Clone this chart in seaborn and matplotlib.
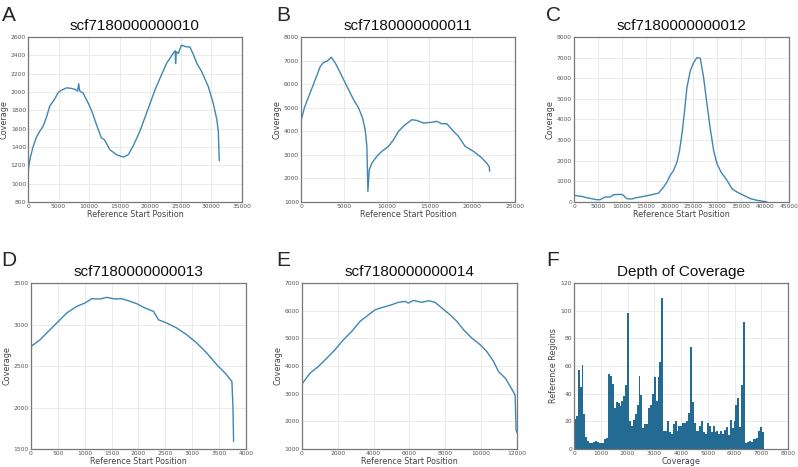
import numpy as np
import pandas as pd
import seaborn as sns
import matplotlib.pyplot as plt

# Coverage along each scaffold
a_pos = [0, 150, 400, 820, 1400, 2000, 2460, 3000, 3550, 4370, 4900, 5500, 6300, 7000, 7600, 8100, 8300,
         8450, 9000, 9840, 10500, 11200, 12000, 12500, 13400, 14500, 15600, 16400, 17200, 18300, 19400,
         20800, 21600, 22700, 23800, 24100, 24150, 24250, 24600, 25100, 25800, 26500, 27000, 27600, 28400,
         29500, 30300, 30900, 31150, 31300]
a_cov = [1100, 1200, 1290, 1400, 1510, 1580, 1625, 1720, 1845, 1924, 1990, 2020, 2045, 2040, 2030, 2010, 2090,
         2010, 1990, 1880, 1780, 1645, 1500, 1480, 1370, 1315, 1290, 1315, 1410, 1570, 1770,
         2025, 2150, 2315, 2425, 2450, 2310, 2440, 2420, 2510, 2495, 2490, 2420, 2315, 2225,
         2060, 1880, 1700, 1570, 1250]

b_pos = [0, 400, 900, 1670, 2260, 2650, 3035, 3540, 4000, 4400, 4980, 5560, 6150, 6730, 7200, 7500, 7700,
         7820, 7980, 8290, 8870, 9460, 10230, 10820, 11400, 12180, 12960, 13540, 14320, 15290, 15880,
         16460, 17040, 17820, 18400, 19180, 20160, 21130, 21710, 22000, 22050]
b_cov = [4450, 5000, 5480, 6190, 6755, 6925, 6970, 7140, 6900, 6615, 6190, 5765, 5340, 4990, 4560, 4070, 3360,
         1450, 2370, 2650, 2940, 3150, 3360, 3640, 4000, 4280, 4490, 4460, 4350, 4380, 4420,
         4320, 4320, 4000, 3790, 3360, 3150, 2870, 2650, 2500, 2300]

c_pos = [0, 1600, 2650, 3700, 4750, 5450, 6500, 7550, 8250, 9650, 10200, 11050, 12100, 13150, 14550, 15600,
         16650, 17700, 18740, 19440, 20140, 20840, 21540, 22100, 22600, 23150, 23640, 24340, 25040, 25730,
         26430, 27130, 27830, 28530, 29230, 29930, 30770, 32030, 33080, 34130, 35530, 36930, 38330, 39720,
         40400]
c_cov = [320, 270, 210, 160, 110, 110, 240, 240, 350, 370, 350, 160, 145, 210, 270, 320,
         370, 430, 720, 960, 1290, 1530, 1930, 2500, 3300, 4430, 5550, 6360, 6760, 7000,
         6970, 6030, 4750, 3540, 2500, 1850, 1450, 1050, 640, 480, 320, 160, 80, 30,
         0]

d_pos = [0, 10, 168, 354, 540, 665, 850, 1006, 1130, 1285, 1410, 1565, 1690, 1845, 1970, 2124, 2280,
         2373, 2528, 2714, 2900, 3087, 3273, 3460, 3615, 3739, 3758, 3770]
d_cov = [2550, 2740, 2816, 2937, 3057, 3138, 3218, 3259, 3311, 3307, 3327, 3307, 3311, 3279, 3250, 3198, 3158,
         3057, 3017, 2957, 2876, 2776, 2655, 2514, 2413, 2313, 2011, 1590]

e_pos = [0, 450, 910, 1380, 1840, 2310, 2780, 3240, 3710, 4080, 4550, 5010, 5380, 5760, 5940, 6220, 6690,
         7060, 7430, 7810, 8270, 8650, 9020, 9480, 9950, 10320, 10700, 10970, 11350, 11630, 11900, 11950,
         12000]
e_cov = [3350, 3740, 3980, 4280, 4585, 4945, 5250, 5610, 5850, 6030, 6130, 6215, 6300, 6335, 6275, 6370, 6300,
         6360, 6300, 6095, 5850, 5610, 5310, 5010, 4770, 4520, 4160, 3800, 3560, 3260, 2950, 1690,
         1600]

# Depth-of-coverage histogram: 100 bins from 0 to 7100
hist_counts = [22, 24, 57, 45, 61, 25, 9, 6, 4, 4,
               5, 6, 5, 4, 4, 4, 7, 8, 54, 53,
               47, 30, 34, 33, 31, 35, 38, 46, 98, 20,
               17, 21, 25, 32, 53, 39, 15, 18, 18, 30,
               32, 40, 52, 35, 52, 63, 109, 13, 13, 20,
               12, 11, 18, 20, 13, 17, 17, 19, 19, 20,
               26, 74, 34, 19, 13, 13, 17, 20, 12, 11,
               19, 17, 12, 17, 12, 13, 11, 13, 11, 14,
               16, 10, 21, 15, 20, 32, 37, 16, 46, 92,
               4, 5, 6, 5, 7, 7, 8, 13, 16, 12]
hist_max = 7100

titles = ['scf7180000000010', 'scf7180000000011', 'scf7180000000012',
          'scf7180000000013', 'scf7180000000014', 'Depth of Coverage']
letters = ['A', 'B', 'C', 'D', 'E', 'F']

sns.set_style('whitegrid')
plt.rcParams['font.family'] = ['DejaVu Sans']

line_color = '#3f86b5'
bar_color = '#236b93'

fig = plt.figure(figsize=(7.98, 4.67), dpi=100)

boxes = [[0.0351, 0.5675, 0.268, 0.3533], [0.3772, 0.5675, 0.268, 0.3533], [0.7193, 0.5675, 0.2694, 0.3533],
         [0.0388, 0.0385, 0.2694, 0.3555], [0.3784, 0.0385, 0.2694, 0.3555], [0.7193, 0.0385, 0.2682, 0.3555]]
axes = [fig.add_axes(b) for b in boxes]

curves = [(a_pos, a_cov), (b_pos, b_cov), (c_pos, c_cov), (d_pos, d_cov), (e_pos, e_cov)]
limits = [((0, 35000), (800, 2600), 5000, 200),
          ((0, 25000), (1000, 8000), 5000, 1000),
          ((0, 45000), (0, 8000), 5000, 1000),
          ((0, 4000), (1500, 3500), 500, 500),
          ((0, 12000), (1000, 7000), 2000, 1000)]

for ax, (x, y), (xl, yl, xs, ys) in zip(axes[:5], curves, limits):
    sns.lineplot(x=x, y=y, ax=ax, color=line_color, linewidth=1.0, sort=False)
    ax.set_xlim(xl)
    ax.set_ylim(yl)
    ax.set_xticks(np.arange(xl[0], xl[1] + 1, xs))
    ax.set_yticks(np.arange(yl[0], yl[1] + 1, ys))
    ax.set_xlabel('Reference Start Position')
    ax.set_ylabel('Coverage')

# histogram
ax = axes[5]
edges = np.linspace(0, hist_max, len(hist_counts) + 1)
hist_df = pd.DataFrame({'cov': (edges[:-1] + edges[1:]) / 2, 'n': hist_counts})
sns.histplot(data=hist_df, x='cov', weights='n', bins=list(edges), ax=ax, color=bar_color,
             alpha=1.0, edgecolor=bar_color, linewidth=0)
ax.set_xlim(0, 8000)
ax.set_ylim(0, 120)
ax.set_xticks(np.arange(0, 8001, 1000))
ax.set_yticks(np.arange(0, 121, 20))
ax.set_xlabel('Coverage')
ax.set_ylabel('Reference Regions')

for ax, t in zip(axes, titles):
    ax.set_title(t, fontsize=11, pad=5, family='Liberation Sans', color='#111111')
    ax.tick_params(labelsize=4.3, colors='#555555', length=0, pad=1.5)
    ax.xaxis.label.set_size(5.8)
    ax.yaxis.label.set_size(5.8)
    ax.xaxis.label.set_color('#444444')
    ax.yaxis.label.set_color('#444444')
    ax.xaxis.labelpad = 0.5
    ax.yaxis.labelpad = 1.5
    ax.grid(True, color='#e8e8e8', linewidth=0.6)
    for s in ax.spines.values():
        s.set_visible(True)
        s.set_color('#777777')
        s.set_linewidth(0.9)

letter_pos = [(0.002, 0.988), (0.346, 0.988), (0.684, 0.988),
              (0.002, 0.462), (0.346, 0.462), (0.684, 0.462)]
for (lx, ly), l in zip(letter_pos, letters):
    fig.text(lx, ly, l, fontsize=15, va='top', ha='left', family='Liberation Sans')

fig.savefig('out.png', dpi=100)
